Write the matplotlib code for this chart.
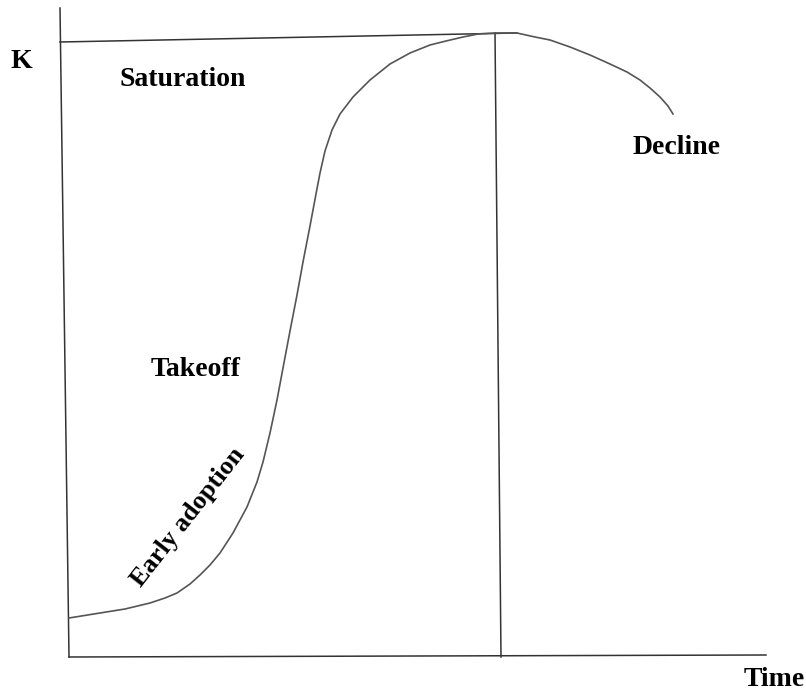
import matplotlib
matplotlib.use("Agg")
import matplotlib.pyplot as plt

# Diagram coordinates (time on x, level on y; y grows downward like the drawing)
curve_x = [69, 100, 125, 150, 165, 177, 190, 200, 210, 220, 233, 247, 257, 263, 270,
           277, 283, 290, 297, 303, 310, 316, 320, 325, 332, 340, 353, 370, 390, 410,
           430, 446, 463, 478, 496, 517, 535, 550, 570, 590, 610, 627, 640, 650, 660,
           668, 673]
curve_y = [618, 613, 609, 603, 598, 593, 584, 575, 565, 553, 533, 507, 482, 462, 433,
           400, 368, 331, 295, 262, 226, 194, 173, 151, 130, 114, 97, 80, 64, 53,
           45, 41, 37, 34, 33, 33, 37, 40, 47, 55, 64, 72, 80, 88, 97,
           106, 114]

y_axis_x = [60, 69]
y_axis_y = [8, 657]
x_axis_x = [69, 766]
x_axis_y = [657, 655]
k_line_x = [60, 517]
k_line_y = [42, 33]
peak_line_x = [495, 501]
peak_line_y = [33, 657]

labels = ["K", "Saturation", "Decline", "Takeoff", "Early adoption", "Time"]
label_x = [21, 183, 677, 196, 188, 774]
label_y = [62, 80, 148, 369, 517, 680]
label_rot = [0, 0, 0, 0, 52, 0]

fig = plt.figure(figsize=(8.06, 6.98), dpi=100)
ax = fig.add_axes([0, 0, 1, 1])
ax.set_xlim(0, 806)
ax.set_ylim(698, 0)
ax.axis("off")

lc = "#333333"
ax.plot(y_axis_x, y_axis_y, color=lc, lw=1.1)
ax.plot(x_axis_x, x_axis_y, color=lc, lw=1.1)
ax.plot(k_line_x, k_line_y, color=lc, lw=1.1)
ax.plot(peak_line_x, peak_line_y, color=lc, lw=1.1)
ax.plot(curve_x, curve_y, color="#555555", lw=1.2, solid_joinstyle="round")

for t, x, y, r in zip(labels, label_x, label_y, label_rot):
    ax.text(x, y, t, fontsize=19 if r else 20, fontweight="bold",
            family="Liberation Serif",
            ha="center", va="center", rotation=r, rotation_mode="anchor")

fig.savefig("out.png", dpi=100)
